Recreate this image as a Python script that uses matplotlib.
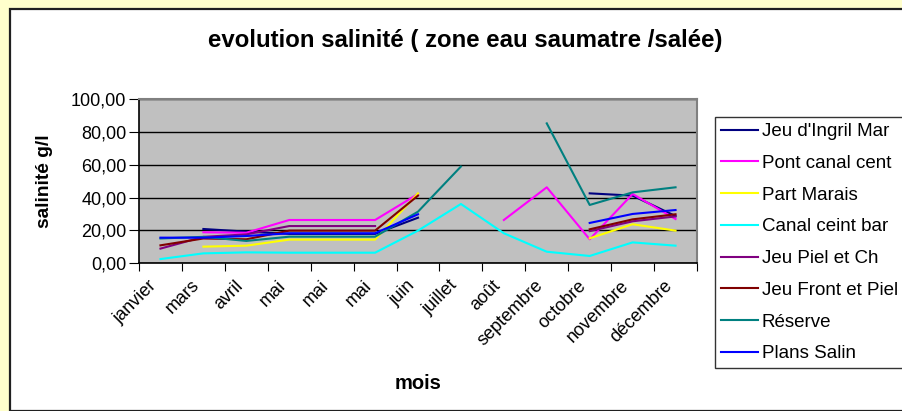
import numpy as np
import matplotlib
matplotlib.use("Agg")
import matplotlib.pyplot as plt
import matplotlib.transforms as mtrans
from matplotlib.patches import Rectangle

plt.rcParams['font.family'] = ['Liberation Sans', 'DejaVu Sans']

nan = np.nan
mois = ['janvier', 'mars', 'avril', 'mai', 'mai', 'mai', 'juin', 'juillet',
        'août', 'septembre', 'octobre', 'novembre', 'décembre']

jeu_ingril = [nan, 20.8, 19.2, 17.8, 17.8, 17.8, 27.7, nan, nan, nan, 42.6, 41.2, 28.7]
pont_canal = [nan, 18.8, 18.5, 26.3, 26.3, 26.3, 42.2, nan, 26.3, 46.3, 14.5, 42.2, 26.9]
part_marais = [nan, 10.0, 10.6, 14.3, 14.3, 14.3, 42.6, nan, nan, nan, 15.1, 23.7, 19.8]
canal_ceint = [2.4, 5.9, 6.5, 6.3, 6.3, 6.3, 19.8, 36.1, 18.2, 6.9, 4.3, 12.6, 10.6]
jeu_piel = [8.8, 16.0, 17.5, 22.6, 22.6, 22.6, nan, nan, nan, nan, 19.5, 25.5, 28.5]
jeu_front = [10.8, 15.0, 14.5, 19.8, 19.8, 19.8, 41.2, nan, nan, nan, 20.6, 26.7, 29.8]
reserve = [15.0, 16.0, 13.5, 16.1, 16.1, 16.1, 31.4, 59.0, nan, 85.4, 35.5, 43.2, 46.3]
plans_salin = [15.5, 15.5, 16.5, 18.2, 18.2, 18.2, 29.8, nan, nan, nan, 24.5, 30.0, 32.4]

series = [
    ("Jeu d'Ingril Mar", jeu_ingril, '#000080'),
    ('Pont canal cent', pont_canal, '#FF00FF'),
    ('Part Marais', part_marais, '#FFFF00'),
    ('Canal ceint bar', canal_ceint, '#00FFFF'),
    ('Jeu Piel et Ch', jeu_piel, '#800080'),
    ('Jeu Front et Piel', jeu_front, '#800000'),
    ('Réserve', reserve, '#008080'),
    ('Plans Salin', plans_salin, '#0000FF'),
]

fig = plt.figure(figsize=(9.03, 4.11), dpi=100, facecolor='#FFFFCC')
# white chart area with dark border
fig.patches.append(Rectangle((10 / 903, 0), 1, 1 - 9 / 411, transform=fig.transFigure,
                             facecolor='white', edgecolor='#202020', linewidth=1.6, zorder=-5))

ax = fig.add_axes([139 / 903, 1 - 263 / 411, 558 / 903, 163.5 / 411])
ax.set_facecolor('#C0C0C0')

x = np.arange(len(mois))
for name, vals, col in series:
    ax.plot(x, vals, color=col, lw=1.5, label=name)

ax.set_xlim(-0.5, len(mois) - 0.5)
ax.set_ylim(0, 100)
ax.set_yticks(np.arange(0, 101, 20))
ax.set_yticklabels([f'{v:.2f}'.replace('.', ',') for v in range(0, 101, 20)], fontsize=13)
ax.yaxis.grid(True, color='black', lw=1)
ax.set_axisbelow(True)

ax.set_xticks(np.arange(-0.5, len(mois), 1))
ax.set_xticklabels([])
ax.set_xticks(x, minor=True)
ax.set_xticklabels(mois, minor=True, rotation=45, ha='right', va='top',
                   rotation_mode='anchor', fontsize=13)
ax.tick_params(axis='x', which='minor', length=0, pad=10)
ax.tick_params(axis='x', which='major', length=6, color='black', direction='out')
ax.tick_params(axis='y', length=7, direction='out', pad=2)
shift = mtrans.ScaledTranslation(-12 / 100, 0, fig.dpi_scale_trans)
for lbl in ax.get_xticklabels(minor=True):
    lbl.set_transform(lbl.get_transform() + shift)

for s in ['left', 'bottom']:
    ax.spines[s].set_color('black')
    ax.spines[s].set_linewidth(1.2)
for s in ['top', 'right']:
    ax.spines[s].set_color('#808080')
    ax.spines[s].set_linewidth(1.5)

fig.text(418 / 903, 1 - 383 / 411, 'mois', ha='center', va='center',
         fontsize=14.5, fontweight='bold')
fig.text(45 / 903, 1 - 181 / 411, 'salinité g/l', ha='center', va='center',
         rotation=90, fontsize=13.8, fontweight='bold')
fig.text(465 / 903, 1 - 40 / 411, 'evolution salinité ( zone eau saumatre /salée)',
         ha='center', va='center', fontsize=17.3, fontweight='bold')

leg = ax.legend(loc='upper left', bbox_to_anchor=(715 / 903, 1 - 117 / 411),
                bbox_transform=fig.transFigure, frameon=True, fancybox=False,
                edgecolor='black', fontsize=13.5, handlelength=1.95, handletextpad=0.22,
                labelspacing=0.78, borderpad=0.32, borderaxespad=0)
leg.get_frame().set_linewidth(1.0)

fig.savefig('out.png', dpi=100, facecolor=fig.get_facecolor())
